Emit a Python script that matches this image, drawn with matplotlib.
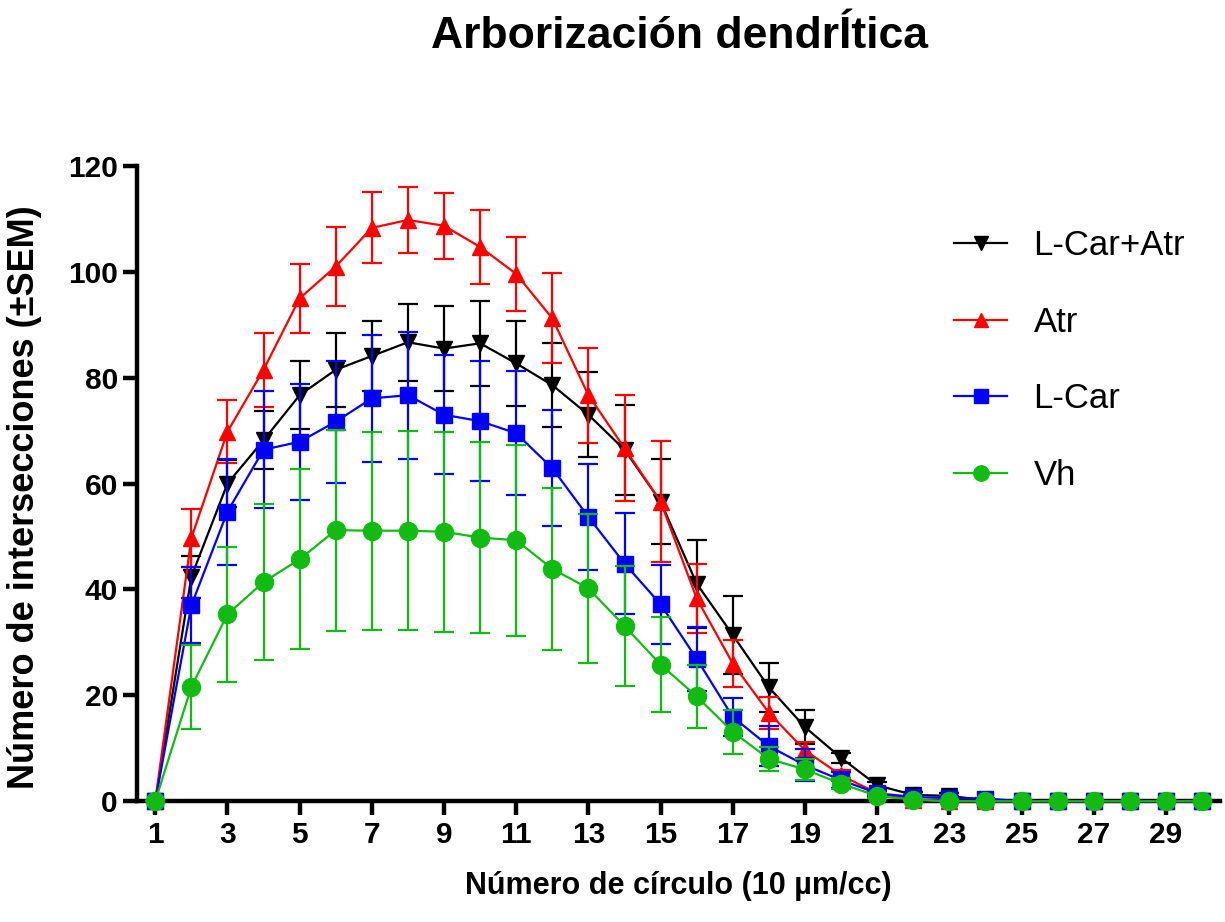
import matplotlib.pyplot as plt
import numpy as np

plt.rcParams['font.family'] = ['Liberation Sans', 'DejaVu Sans']

circles = np.arange(1, 31)

# mean number of intersections per circle
lcar_atr = [0, 42.4, 60.0, 68.2, 76.7, 81.5, 84.1, 86.7, 85.5, 86.5, 82.7, 78.6, 73.0, 66.4, 56.6,
            41.1, 31.4, 21.5, 14.0, 8.2, 3.0, 1.2, 1.0, 0.2, 0, 0, 0, 0, 0, 0]
atr = [0, 49.7, 69.8, 81.5, 95.0, 101.0, 108.3, 109.8, 108.7, 104.7, 99.6, 91.2, 76.7, 66.7, 56.6,
       38.3, 26.0, 16.7, 9.6, 4.9, 1.5, 0.3, 0, 0, 0, 0, 0, 0, 0, 0]
lcar = [0, 37.0, 54.7, 66.4, 67.9, 71.7, 76.1, 76.7, 73.0, 71.8, 69.5, 62.9, 53.7, 44.9, 37.2,
        26.9, 15.9, 10.4, 6.8, 4.0, 1.5, 0.8, 0.6, 0.5, 0, 0, 0, 0, 0, 0]
vh = [0, 21.6, 35.3, 41.4, 45.7, 51.2, 51.1, 51.1, 50.9, 49.8, 49.3, 43.9, 40.2, 33.1, 25.8,
      19.8, 13.1, 8.0, 6.0, 3.3, 1.0, 0.3, 0, 0, 0, 0, 0, 0, 0, 0]

# SEM
lcar_atr_sem = [0, 4.0, 4.5, 5.5, 6.4, 7.0, 6.7, 7.3, 8.0, 8.0, 8.0, 8.0, 8.0, 8.5, 8.0,
                8.3, 7.4, 4.6, 3.2, 1.0, 0.6, 0.5, 0.5, 0, 0, 0, 0, 0, 0, 0]
atr_sem = [0, 5.5, 6.0, 7.0, 6.5, 7.5, 6.7, 6.2, 6.2, 7.0, 7.0, 8.5, 9.0, 10.0, 11.5,
           6.5, 4.5, 3.0, 1.5, 1.0, 0.5, 0.2, 0, 0, 0, 0, 0, 0, 0, 0]
lcar_sem = [0, 7.2, 10.0, 11.0, 11.0, 11.5, 12.0, 12.0, 11.2, 11.3, 11.7, 11.0, 10.0, 9.5, 7.5,
            6.0, 3.6, 3.8, 3.0, 1.5, 0.5, 0.3, 0.3, 0.2, 0, 0, 0, 0, 0, 0]
vh_sem = [0, 8.0, 12.7, 14.8, 17.0, 19.0, 18.7, 18.8, 18.9, 18.0, 18.0, 15.3, 14.0, 11.3, 9.0,
          6.0, 4.2, 2.3, 2.0, 1.0, 0.3, 0.1, 0, 0, 0, 0, 0, 0, 0, 0]

labels = ['L-Car+Atr', 'Atr', 'L-Car', 'Vh']
means = [lcar_atr, atr, lcar, vh]
sems = [lcar_atr_sem, atr_sem, lcar_sem, vh_sem]
colors = ['black', '#FF0000', '#0000FF', '#11BB11']
markers = ['v', '^', 's', 'o']
msizes = [12, 12, 12, 13]

fig = plt.figure(figsize=(12.25, 9.22), dpi=100)
ax = fig.add_axes([0.112, 0.131, 0.884, 0.689])

handles = []
for i in range(4):
    cont = ax.errorbar(circles, means[i], yerr=sems[i], color=colors[i], marker=markers[i],
                       markersize=msizes[i], linewidth=1.6, elinewidth=1.6, capsize=7,
                       capthick=1.6, clip_on=False, zorder=3 + i)
    handles.append(cont.lines[0])

ax.set_xlim(0.5, 30.5)
ax.set_ylim(0, 120)
ax.set_xticks(np.arange(1, 30, 2))
ax.set_yticks(np.arange(0, 121, 20))
for side in ['top', 'right']:
    ax.spines[side].set_visible(False)
for side in ['left', 'bottom']:
    ax.spines[side].set_linewidth(3.2)
ax.tick_params(width=3.2, length=10, labelsize=21.5, pad=4)
for lab in ax.get_xticklabels() + ax.get_yticklabels():
    lab.set_fontweight('bold')

ax.set_xlabel('Número de círculo (10 µm/cc)', fontsize=22, fontweight='bold', labelpad=16)
ax.set_ylabel('Número de intersecciones (±SEM)', fontsize=26, fontweight='bold')
ax.yaxis.set_label_coords(-0.088, 0.478)
fig.text(0.555, 0.96, 'Arborización dendrÍtica', fontsize=32, fontweight='bold',
         ha='center', va='center')

fig.legend(handles, labels, loc='upper left', bbox_to_anchor=(0.753, 0.785), frameon=False,
           fontsize=25, labelspacing=1.25, handlelength=1.55, handletextpad=0.75, markerscale=0.85)

fig.savefig('out.png', dpi=100)
